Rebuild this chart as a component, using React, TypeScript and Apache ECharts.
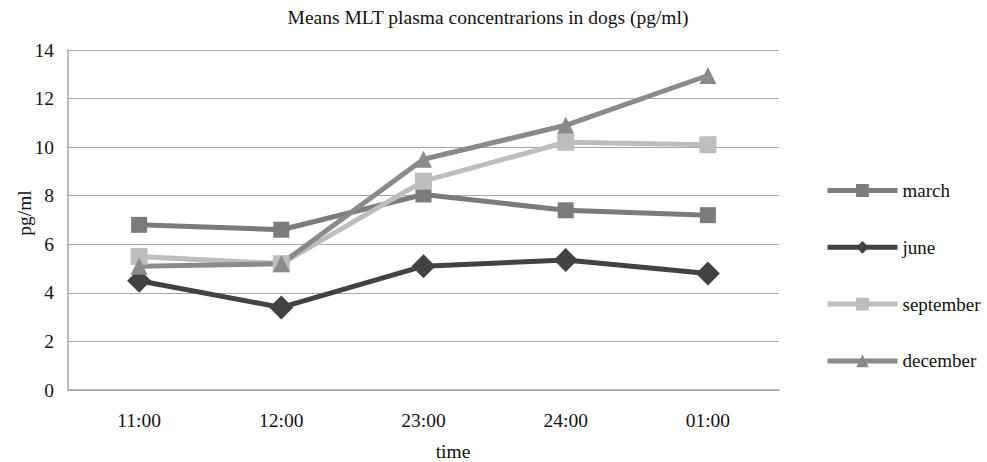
import React, { useEffect, useRef } from "react";
import * as echarts from "echarts";

const categories = ["11:00", "12:00", "23:00", "24:00", "01:00"];
const march = [6.8, 6.6, 8.05, 7.4, 7.2];
const june = [4.5, 3.4, 5.1, 5.35, 4.8];
const september = [5.5, 5.2, 8.6, 10.2, 10.1];
const december = [5.1, 5.2, 9.5, 10.9, 12.95];
const yTicks = { min: 0, max: 14, interval: 2 };

const FONT = "'Liberation Serif', 'DejaVu Serif', serif";

export default function App() {
  const ref = useRef<HTMLDivElement>(null);
  useEffect(() => {
    if (!ref.current) return;
    const chart = echarts.init(ref.current, undefined, { renderer: "svg" });
    const mk = (name: string, data: number[], color: string, symbol: string, size: number) => ({
      name,
      type: "line",
      data,
      symbol,
      symbolSize: size,
      lineStyle: { color, width: 5 },
      itemStyle: { color },
      z: 3,
    });
    chart.setOption({
      animation: false,
      backgroundColor: "#ffffff",
      textStyle: { fontFamily: FONT },
      legend: {
        orient: "vertical",
        left: 820,
        top: 176,
        itemWidth: 70,
        itemHeight: 16,
        itemGap: 37.8,
        lineStyle: { width: 5 },
        textStyle: { fontFamily: FONT, fontSize: 19, color: "#111" },
        data: ["march", "june", "september", "december"],
      },
      grid: { left: 68, right: 208, top: 50, bottom: 72 },
      xAxis: {
        type: "category",
        data: categories,
        boundaryGap: true,
        axisLine: { lineStyle: { color: "#a6a6a6", width: 1.5 } },
        axisTick: { show: false },
        axisLabel: { fontFamily: FONT, fontSize: 19.5, color: "#111", margin: 20 },
      },
      yAxis: {
        type: "value",
        min: yTicks.min,
        max: yTicks.max,
        interval: yTicks.interval,
        axisLine: { show: true, lineStyle: { color: "#a6a6a6", width: 1.5 } },
        axisTick: { show: false },
        splitLine: { lineStyle: { color: "#a6a6a6", width: 1.2 } },
        axisLabel: { fontFamily: FONT, fontSize: 19.5, color: "#111", margin: 14 },
      },
      graphic: [
        {
          type: "text",
          x: 488,
          y: 17,
          style: {
            text: "Means MLT plasma concentrarions in dogs (pg/ml)",
            font: `19.5px ${FONT}`,
            fill: "#111",
            textAlign: "center",
            textVerticalAlign: "middle",
          },
        },
        {
          type: "text",
          x: 453,
          y: 451,
          style: {
            text: "time",
            font: `19.5px ${FONT}`,
            fill: "#111",
            textAlign: "center",
            textVerticalAlign: "middle",
          },
        },
        {
          type: "text",
          x: 24,
          y: 213,
          rotation: Math.PI / 2,
          style: {
            text: "pg/ml",
            font: `19.5px ${FONT}`,
            fill: "#111",
            textAlign: "center",
            textVerticalAlign: "middle",
          },
        },
      ],
      series: [
        mk("march", march, "#7b7b7b", "rect", 16),
        mk("june", june, "#424242", "diamond", 24),
        mk("september", september, "#bdbdbd", "rect", 17),
        mk("december", december, "#8a8a8a", "triangle", 17),
      ],
    });
    return () => chart.dispose();
  }, []);
  return (
    <div
      ref={ref}
      style={{ position: "fixed", left: 0, top: 0, width: 987, height: 462 }}
    />
  );
}
